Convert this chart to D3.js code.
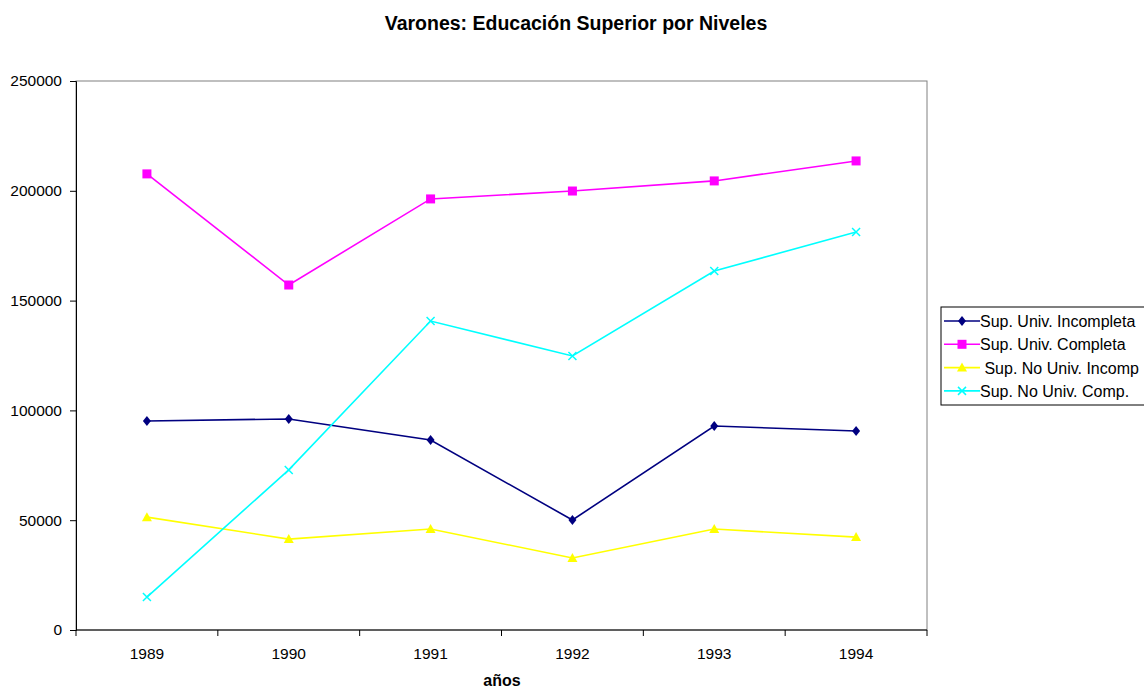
<!DOCTYPE html>
<html>
<head>
<meta charset="utf-8">
<script src="https://cdn.jsdelivr.net/npm/d3@7"></script>
<style>
  body { margin: 0; background: #fff; }
  text { font-family: "Liberation Sans", Arial, sans-serif; }
</style>
</head>
<body>
<div id="chart"></div>
<script>
// data
const years = ['1989', '1990', '1991', '1992', '1993', '1994'];
const univIncompleta = [95200, 96100, 86500, 50100, 92900, 90600];
const univCompleta = [207700, 157100, 196300, 199900, 204500, 213600];
const noUnivIncomp = [51400, 41400, 46000, 32800, 46000, 42300];
const noUnivComp = [15000, 72900, 140700, 124800, 163500, 181200];
const yTicks = [0, 50000, 100000, 150000, 200000, 250000];

const series = [
  {name: 'Sup. Univ. Incompleta', values: univIncompleta, color: '#000080', symbol: 'diamond'},
  {name: 'Sup. Univ. Completa', values: univCompleta, color: '#ff00ff', symbol: 'square'},
  {name: ' Sup. No Univ. Incomp', values: noUnivIncomp, color: '#ffff00', symbol: 'triangle'},
  {name: 'Sup. No Univ. Comp.', values: noUnivComp, color: '#00ffff', symbol: 'cross'}
];

const W = 1144, H = 690;
const pL = 76, pR = 927, pT = 81, pB = 630;

const svg = d3.select('#chart').append('svg')
  .attr('width', W)
  .attr('height', H);

const x = d3.scaleBand().domain(years).range([pL, pR]);
const y = d3.scaleLinear().domain([0, 250000]).range([pB, pT]);

// plot frame (gray top/right)
svg.append('rect')
  .attr('x', pL).attr('y', pT)
  .attr('width', pR - pL).attr('height', pB - pT)
  .attr('fill', 'none').attr('stroke', '#808080').attr('stroke-width', 1);

// y axis
const yAxis = d3.axisLeft(y).tickValues(yTicks).tickSize(6).tickPadding(8).tickFormat(d3.format('d'));
const gy = svg.append('g').attr('transform', `translate(${pL},0)`).call(yAxis);
gy.select('.domain').attr('stroke', '#000');
gy.selectAll('text').style('font-size', '15.5px').attr('fill', '#000');

// x axis, ticks at category boundaries
const gx = svg.append('g').attr('transform', `translate(0,${pB})`);
gx.append('line').attr('x1', pL).attr('x2', pR).attr('y1', 0).attr('y2', 0).attr('stroke', '#000');
const bounds = years.map(d => x(d)).concat([pR]);
gx.selectAll('.xt').data(bounds).enter().append('line')
  .attr('x1', d => d).attr('x2', d => d).attr('y1', 0).attr('y2', 6).attr('stroke', '#000');
gx.selectAll('.xl').data(years).enter().append('text')
  .attr('x', d => x(d) + x.bandwidth() / 2)
  .attr('y', 29)
  .attr('text-anchor', 'middle')
  .style('font-size', '15.5px')
  .text(d => d);

// symbols
function drawSymbol(g, type, color, cx, cy) {
  if (type === 'diamond') {
    g.append('path').attr('d', `M${cx},${cy - 5}L${cx + 4},${cy}L${cx},${cy + 5}L${cx - 4},${cy}Z`).attr('fill', color);
  } else if (type === 'square') {
    g.append('rect').attr('x', cx - 4.5).attr('y', cy - 4.5).attr('width', 9).attr('height', 9).attr('fill', color);
  } else if (type === 'triangle') {
    g.append('path').attr('d', `M${cx},${cy - 5}L${cx + 5},${cy + 4}L${cx - 5},${cy + 4}Z`).attr('fill', color);
  } else {
    g.append('path').attr('d', `M${cx - 4},${cy - 4}L${cx + 4},${cy + 4}M${cx - 4},${cy + 4}L${cx + 4},${cy - 4}`)
      .attr('stroke', color).attr('stroke-width', 1.5).attr('fill', 'none');
  }
}

const line = d3.line()
  .x((d, i) => x(years[i]) + x.bandwidth() / 2)
  .y(d => y(d));

series.forEach(s => {
  const g = svg.append('g');
  g.append('path')
    .datum(s.values)
    .attr('d', line)
    .attr('fill', 'none')
    .attr('stroke', s.color)
    .attr('stroke-width', 1.6);
  s.values.forEach((v, i) => drawSymbol(g, s.symbol, s.color, x(years[i]) + x.bandwidth() / 2, y(v)));
});

// legend
const lg = svg.append('g').attr('transform', 'translate(941,307)');
lg.append('rect').attr('x', 0).attr('y', 0).attr('width', 210).attr('height', 98)
  .attr('fill', '#fff').attr('stroke', '#000');
series.forEach((s, i) => {
  const cy = 14 + i * 23.3;
  lg.append('line').attr('x1', 3).attr('x2', 39).attr('y1', cy).attr('y2', cy)
    .attr('stroke', s.color).attr('stroke-width', 1.6);
  drawSymbol(lg, s.symbol, s.color, 21, cy);
  lg.append('text').attr('x', 39).attr('y', cy + 6).style('font-size', '16px')
    .attr('xml:space', 'preserve').style('white-space', 'pre').text(s.name);
});

// titles
svg.append('text')
  .attr('x', 576).attr('y', 30)
  .attr('text-anchor', 'middle')
  .style('font-size', '19.5px').style('font-weight', 'bold')
  .text('Varones: Educación Superior por Niveles');

svg.append('text')
  .attr('x', 502).attr('y', 686)
  .attr('text-anchor', 'middle')
  .style('font-size', '16px').style('font-weight', 'bold')
  .text('años');
</script>
</body>
</html>
